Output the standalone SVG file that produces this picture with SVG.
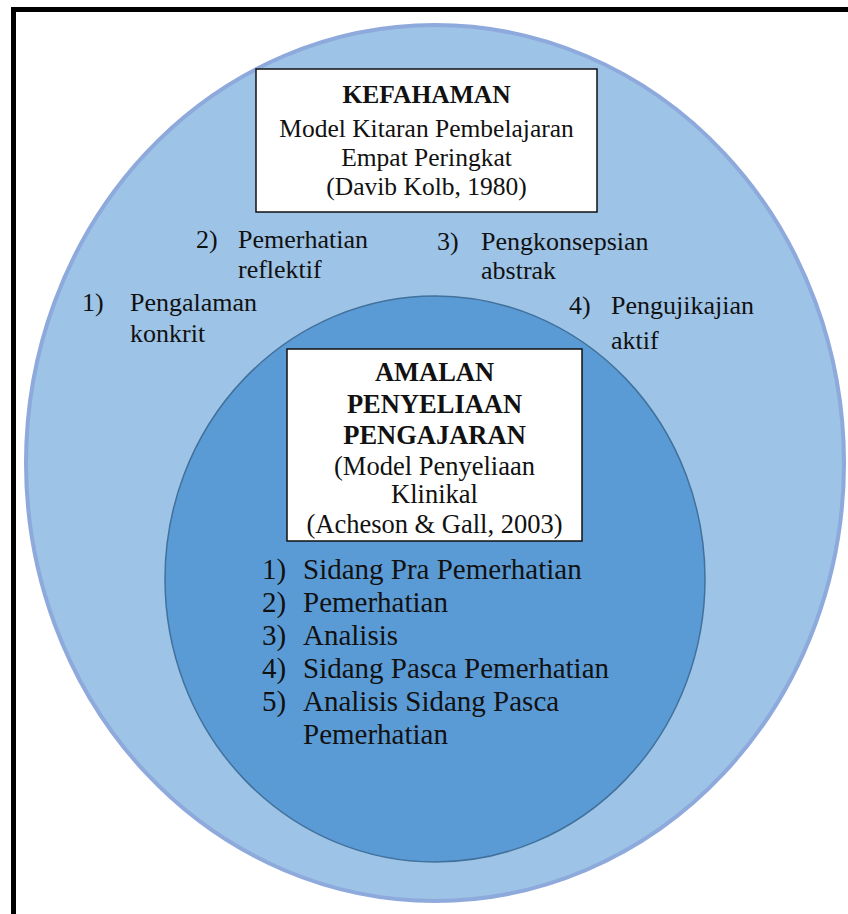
<svg xmlns="http://www.w3.org/2000/svg" width="848" height="914" viewBox="0 0 848 914">
  <style>
    .t { font-family: "Liberation Serif", "Times New Roman", serif; fill: #111; }
    .box { fill: #ffffff; stroke: #111; stroke-width: 1.5; }
    .hd { font-size: 25.5px; font-weight: bold; text-anchor: middle; }
    .hd2 { font-size: 26.5px; font-weight: bold; text-anchor: middle; }
    .bx { font-size: 25.5px; text-anchor: middle; }
    .bx2 { font-size: 26.5px; text-anchor: middle; }
    .lb { font-size: 26px; }
    .ls { font-size: 29px; }
  </style>

  <!-- page background and frame -->
  <rect x="0" y="0" width="848" height="914" fill="#ffffff"/>
  <rect x="13.5" y="9.5" width="860" height="930" fill="none" stroke="#000" stroke-width="5"/>

  <!-- outer circle: understanding (Kolb) -->
  <g id="outer-circle">
    <ellipse cx="435" cy="463" rx="409" ry="438" fill="#9dc3e6" stroke="#8ea9db" stroke-width="4"/>
  </g>

  <!-- inner circle: teaching supervision practice -->
  <g id="inner-circle">
    <ellipse cx="435" cy="579" rx="270" ry="283" fill="#5b9bd5" stroke="#41719c" stroke-width="1.5"/>
  </g>

  <g id="connectors"></g>

  <!-- title box of the outer circle -->
  <g id="kefahaman-box">
    <rect class="box" x="256" y="69" width="341" height="143"/>
    <text class="t hd" x="426.5" y="103">KEFAHAMAN</text>
    <text class="t bx" x="426.5" y="137">Model Kitaran Pembelajaran</text>
    <text class="t bx" x="426.5" y="166">Empat Peringkat</text>
    <text class="t bx" x="426.5" y="195">(Davib Kolb, 1980)</text>
  </g>

  <!-- the four stages of the learning cycle -->
  <g id="stage-1">
    <text class="t lb" x="82" y="311">1)</text>
    <text class="t lb" x="130" y="311">Pengalaman</text>
    <text class="t lb" x="130" y="342">konkrit</text>
  </g>
  <g id="stage-2">
    <text class="t lb" x="196" y="248">2)</text>
    <text class="t lb" x="238" y="248">Pemerhatian</text>
    <text class="t lb" x="238" y="278">reflektif</text>
  </g>
  <g id="stage-3">
    <text class="t lb" x="437" y="250">3)</text>
    <text class="t lb" x="481" y="250">Pengkonsepsian</text>
    <text class="t lb" x="481" y="279">abstrak</text>
  </g>
  <g id="stage-4">
    <text class="t lb" x="569" y="314">4)</text>
    <text class="t lb" x="611" y="314">Pengujikajian</text>
    <text class="t lb" x="611" y="349">aktif</text>
  </g>

  <!-- title box of the inner circle -->
  <g id="amalan-box">
    <rect class="box" x="287" y="349" width="295" height="192"/>
    <text class="t hd2" x="434.5" y="381">AMALAN</text>
    <text class="t hd2" x="434.5" y="413">PENYELIAAN</text>
    <text class="t hd2" x="434.5" y="444">PENGAJARAN</text>
    <text class="t bx2" x="434.5" y="475">(Model Penyeliaan</text>
    <text class="t bx2" x="434.5" y="503">Klinikal</text>
    <text class="t bx2" x="434.5" y="533">(Acheson &amp; Gall, 2003)</text>
  </g>

  <!-- clinical supervision steps -->
  <g id="steps">
    <text class="t ls" x="262" y="579">1)</text>
    <text class="t ls" x="303" y="579">Sidang Pra Pemerhatian</text>
    <text class="t ls" x="262" y="612">2)</text>
    <text class="t ls" x="303" y="612">Pemerhatian</text>
    <text class="t ls" x="262" y="645">3)</text>
    <text class="t ls" x="303" y="645">Analisis</text>
    <text class="t ls" x="262" y="678">4)</text>
    <text class="t ls" x="303" y="678">Sidang Pasca Pemerhatian</text>
    <text class="t ls" x="262" y="711">5)</text>
    <text class="t ls" x="303" y="711">Analisis Sidang Pasca</text>
    <text class="t ls" x="303" y="744">Pemerhatian</text>
  </g>
</svg>
